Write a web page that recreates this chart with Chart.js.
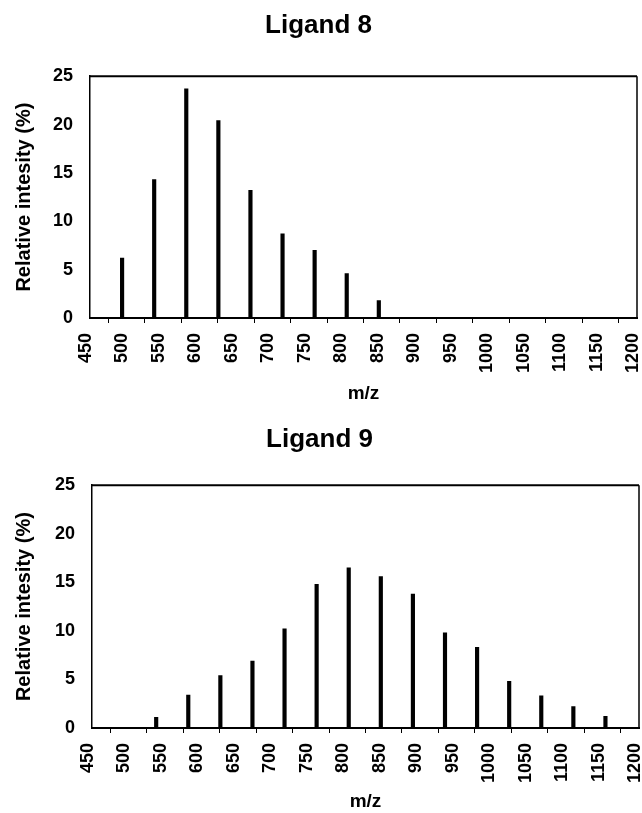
<!DOCTYPE html>
<html lang="en">
<head>
  <meta charset="UTF-8" />
  <title>Ligand 8 / Ligand 9 spectra</title>
  <script src="https://cdn.jsdelivr.net/npm/chart.js@4.4.0/dist/chart.umd.min.js"></script>
  <style>
    html, body { margin:0; padding:0; background:#fff; }
    #wrap { position:relative; width:642px; height:813px; }
    #top { position:absolute; left:0; top:0; }
    #bottom { position:absolute; left:0; top:412px; }
  </style>
</head>
<body>
<div id="wrap">
  <canvas id="top" width="642" height="412"></canvas>
  <canvas id="bottom" width="642" height="401"></canvas>
</div>

<script>
  // ── data ──────────────────────────────────────────────────
  const ligand8Mz  = [494, 538, 582, 626, 670, 714, 758, 802, 846];
  const ligand8Int = [6.2, 14.3, 23.7, 20.4, 13.2, 8.7, 7.0, 4.6, 1.8];

  const ligand9Mz  = [538, 582, 626, 670, 714, 758, 802, 846, 890, 934, 978, 1022, 1066, 1110, 1154];
  const ligand9Int = [1.1, 3.4, 5.4, 6.9, 10.2, 14.8, 16.5, 15.6, 13.8, 9.8, 8.3, 4.8, 3.3, 2.2, 1.2];

  const xMin = 450, xMax = 1200, xStep = 50;
  const yMin = 0, yMax = 25, yStep = 5;

  const FONT = "'Liberation Sans', Arial, sans-serif";
  Chart.defaults.font.family = FONT;
  Chart.defaults.color = '#000';

  // box round the plot area (top + right edges)
  const frame = {
    id: 'frame',
    afterDatasetsDraw(chart) {
      const { ctx, chartArea: a } = chart;
      ctx.save();
      ctx.strokeStyle = '#000';
      ctx.lineWidth = 2;
      ctx.beginPath();
      ctx.moveTo(a.left, a.top);
      ctx.lineTo(a.right, a.top);
      ctx.stroke();
      ctx.lineWidth = 1.5;
      ctx.beginPath();
      ctx.moveTo(a.right, a.top);
      ctx.lineTo(a.right, a.bottom);
      ctx.stroke();
      ctx.restore();
    }
  };

  function makeChart(id, title, mz, inten, g) {
    return new Chart(document.getElementById(id), {
      type: 'bar',
      data: {
        datasets: [{
          label: title,
          data: mz.map((x, i) => ({ x, y: inten[i] })),
          backgroundColor: '#000',
          borderWidth: 0,
          barThickness: 3.5
        }]
      },
      options: {
        responsive: false,
        animation: false,
        layout: { padding: { left: 0, right: g.right, top: 0, bottom: 0 } },
        plugins: {
          legend: { display: false },
          tooltip: { enabled: false },
          title: {
            display: true,
            text: title,
            color: '#000',
            font: { size: 26, weight: 'bold' },
            padding: { top: g.titleTop, bottom: g.titleBottom }
          }
        },
        scales: {
          x: {
            type: 'linear',
            min: xMin, max: xMax,
            offset: false,
            afterFit: s => { s.height = g.xHeight; s.paddingLeft = 0; s.paddingRight = 0; },
            border: { display: true, color: '#000', width: 2 },
            grid: { display: true, drawOnChartArea: false, drawTicks: true, tickLength: 5, color: '#000', lineWidth: 1 },
            ticks: {
              stepSize: xStep,
              minRotation: 90, maxRotation: 90,
              autoSkip: false,
              padding: 10,
              labelOffset: -4,
              callback: v => String(v),
              font: { size: 18, weight: 'bold' }
            },
            title: {
              display: true,
              text: 'm/z',
              font: { size: 19, weight: 'bold' },
              padding: { top: 0, bottom: g.mzBottom }
            }
          },
          y: {
            min: yMin, max: yMax,
            afterFit: s => { s.width = g.yWidth; s.paddingTop = 0; s.paddingBottom = 0; },
            border: { display: true, color: '#000', width: 1.5 },
            grid: { display: false, drawTicks: false },
            ticks: {
              stepSize: yStep,
              padding: 17,
              font: { size: 18, weight: 'bold' }
            },
            title: {
              display: true,
              text: 'Relative intesity (%)',
              font: { size: 20, weight: 'bold' },
              padding: { top: 12, bottom: 0 }
            }
          }
        }
      },
      plugins: [frame]
    });
  }

  makeChart('top', 'Ligand 8', ligand8Mz, ligand8Int,
    { right: 5, titleTop: 10, titleBottom: 35, xHeight: 94, mzBottom: 7, yWidth: 90 });
  makeChart('bottom', 'Ligand 9', ligand9Mz, ligand9Int,
    { right: 3, titleTop: 12, titleBottom: 30, xHeight: 85, mzBottom: 0, yWidth: 92 });
</script>
</body>
</html>
